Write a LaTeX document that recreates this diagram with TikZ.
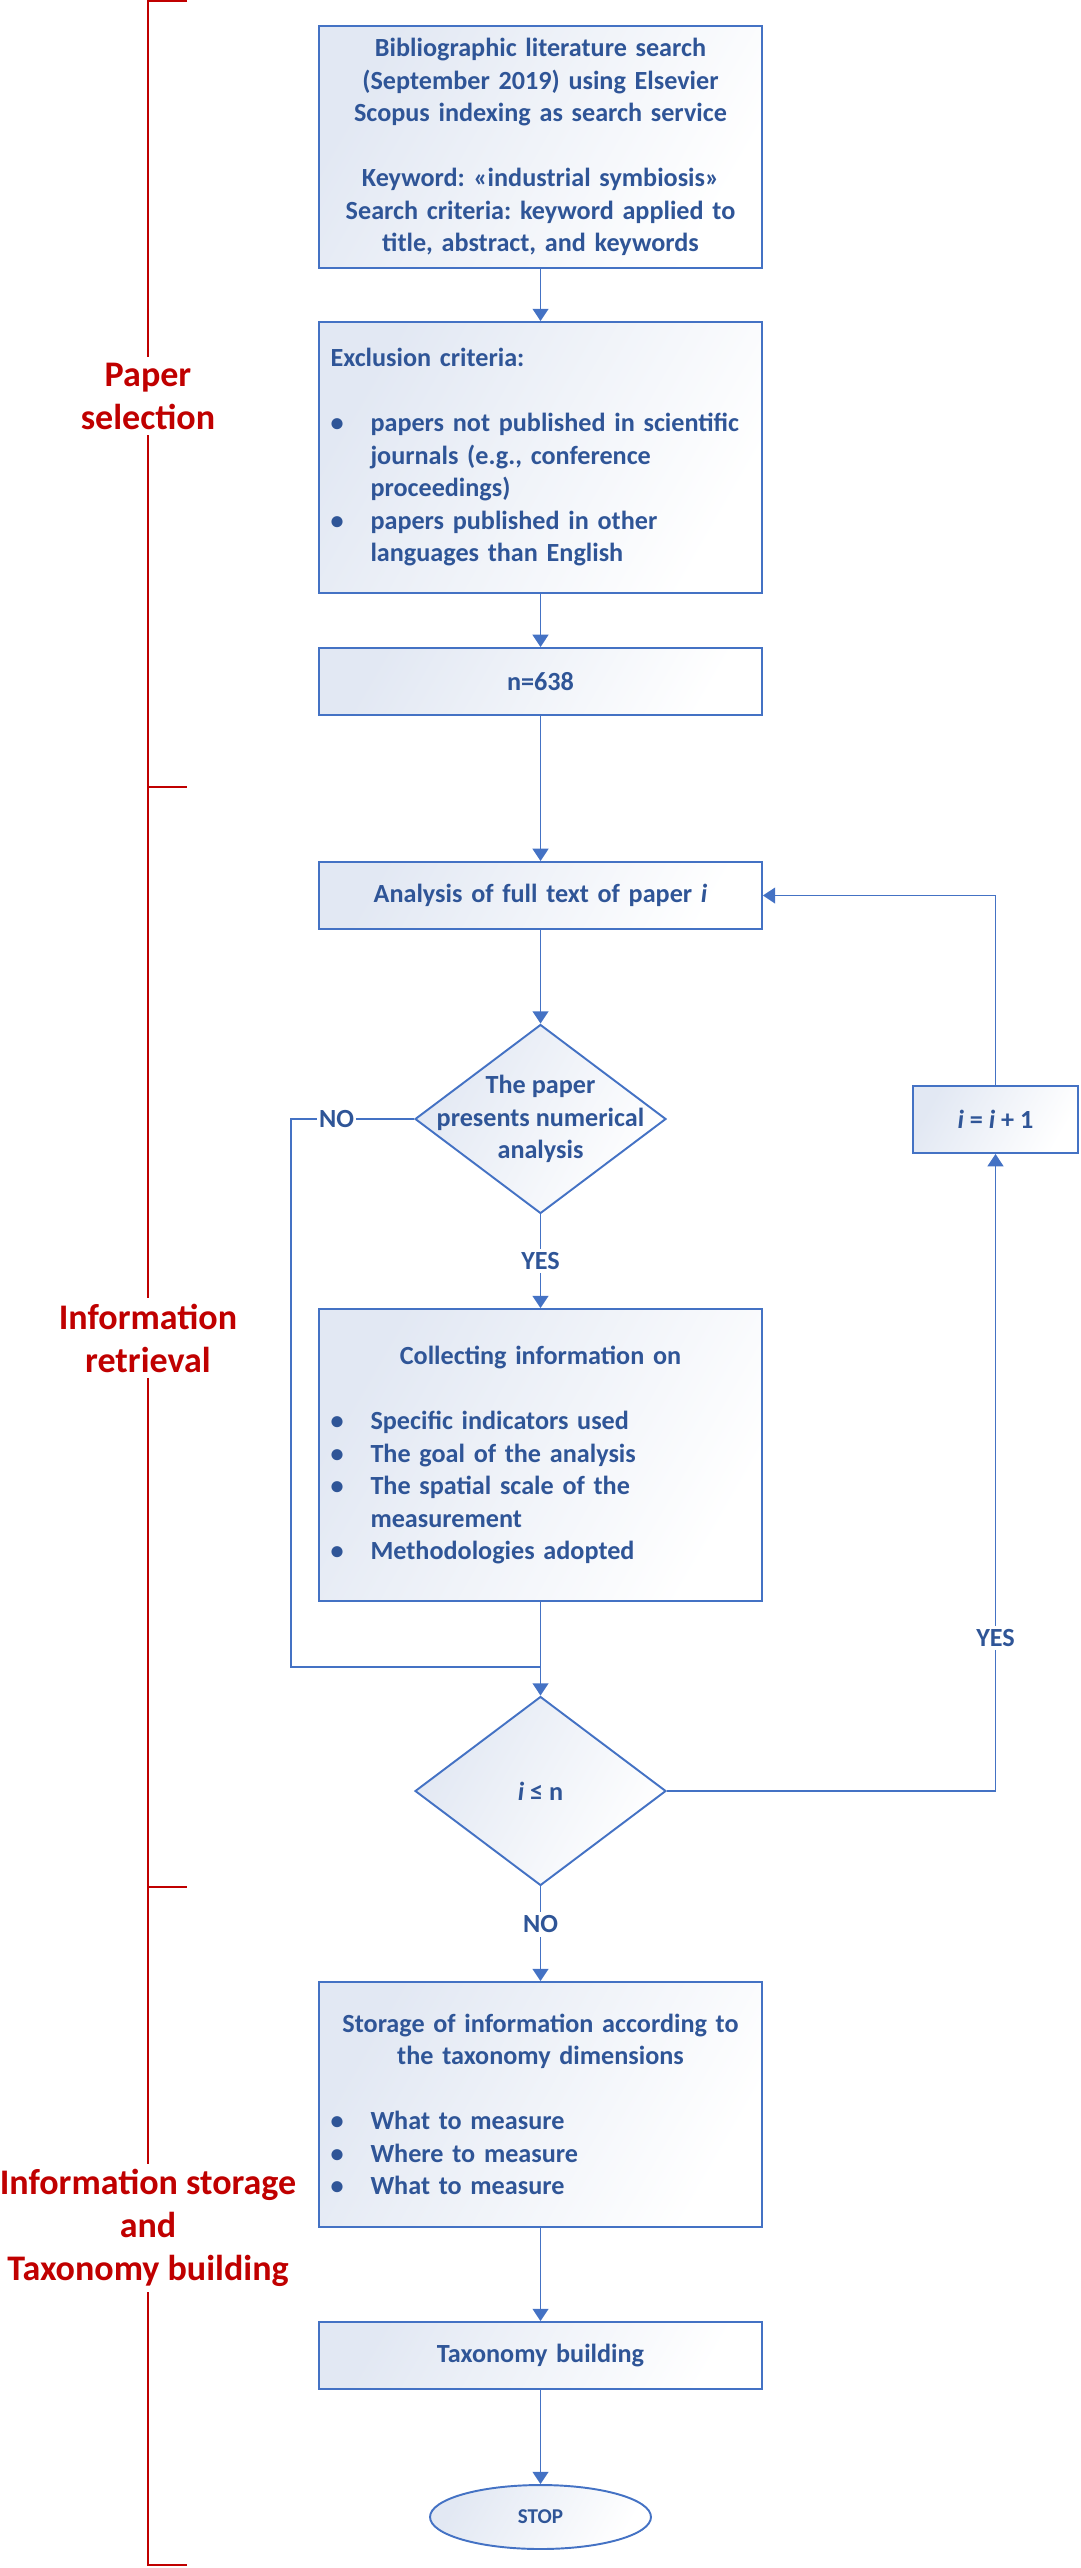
\documentclass[tikz,border=0pt]{standalone}
\usepackage{fontspec}
\setmainfont{Carlito}
\usepackage{tikz}
\usetikzlibrary{arrows.meta,shapes.geometric,positioning}
\usepackage{xcolor}
\definecolor{flowblue}{HTML}{4472C4}
\definecolor{flowtext}{HTML}{2F5597}
\definecolor{flowfill}{HTML}{E2E8F3}
\definecolor{stagered}{HTML}{C00000}
\frenchspacing
\hyphenpenalty=10000
\exhyphenpenalty=10000
\newcommand{\boxfont}{\fontsize{14.9}{18.5}\selectfont\bfseries}
\newcommand{\stagefont}{\fontsize{20.5}{24.5}\selectfont\bfseries}
\newcommand{\blt}{\makebox[0.8cm][l]{\textbullet}}
\newcommand{\ind}{\hspace*{0.8cm}}
\newcommand{\ctr}[1]{\makebox[8.4cm][c]{#1}}
\tikzstyle{box} = [draw=flowblue, line width=1.1pt, left color=flowfill, right color=white, shading angle=60, minimum width=8.86cm, text width=8.4cm, inner xsep=0.23cm, inner ysep=0pt, align=center, text=flowtext, font=\boxfont]
\tikzstyle{smallbox} = [draw=flowblue, line width=1.1pt, left color=flowfill, right color=white, shading angle=60, minimum width=3.3cm, minimum height=1.34cm, text=flowtext, font=\boxfont]
\tikzstyle{decision} = [diamond, draw=flowblue, line width=1.1pt, left color=flowfill, right color=white, shading angle=60, minimum width=5.02cm, minimum height=3.78cm, inner sep=0pt]
\tikzstyle{dtext} = [align=center, text=flowtext, font=\boxfont]
\tikzstyle{terminal} = [ellipse, draw=flowblue, line width=1.1pt, left color=flowfill, right color=white, shading angle=60, minimum width=4.42cm, minimum height=1.28cm, text=flowtext, font=\fontsize{12}{14}\selectfont\bfseries]
\tikzstyle{lbl} = [fill=white, text=flowtext, font=\boxfont, inner sep=2pt]
\tikzstyle{stage} = [fill=white, text=stagered, align=center, font=\stagefont, inner sep=3pt]
\tikzstyle{bracket} = [stagered, line width=1.1pt]
\tikzstyle{flowline} = [flowblue, line width=1.1pt]
\tikzstyle{arrow} = [flowline, -{Triangle[width=9pt,length=7pt]}]

\begin{document}
\begin{tikzpicture}[x=0.02cm,y=0.02cm]
\useasboundingbox (0,0) rectangle (1080,-2568);

% Stage bracket on the left
\draw[bracket] (187,-1) -- (148,-1) -- (148,-2565) -- (187,-2565);
\draw[bracket] (148,-787) -- (187,-787);
\draw[bracket] (148,-1887) -- (187,-1887);
\node[stage] (selection) at (148,-396) {Paper\\selection};
\node[stage] (retrieval) at (148,-1338) {Information\\retrieval};
\node[stage] (storage) at (148,-2228) {Information storage\\and\\Taxonomy building};

% Paper selection
\node[box, minimum height=4.84cm] (search) at (540.5,-147) {Bibliographic literature search\\(September 2019) using Elsevier\\Scopus indexing as search service\\[\baselineskip]Keyword: «industrial symbiosis»\\Search criteria: keyword applied to\\title, abstract, and keywords};
\node[box, minimum height=5.42cm, align=left] (exclude) at (540.5,-457.5) {Exclusion criteria:\\[\baselineskip]\blt papers not published in scientific\\\ind journals (e.g., conference\\\ind proceedings)\\\blt papers published in other\\\ind languages than English};
\node[box, minimum height=1.34cm] (count) at (540.5,-681.5) {n=638};

% Information retrieval
\node[box, minimum height=1.34cm] (analysis) at (540.5,-895.5) {Analysis of full text of paper \textit{i}};
\node[decision] (numcheck) at (540.5,-1119) {};
\node[dtext] (numchecktext) at (numcheck) {The paper\\presents numerical\\analysis};
\node[smallbox] (inc) at (995.5,-1119.5) {\textit{i} = \textit{i} + 1};
\node[box, minimum height=5.84cm, align=left] (collect) at (540.5,-1455) {\ctr{Collecting information on}\\[\baselineskip]\blt Specific indicators used\\\blt The goal of the analysis\\\blt The spatial scale of the\\\ind measurement\\\blt Methodologies adopted};
\node[decision] (lastcheck) at (540.5,-1791) {};
\node[dtext] (lastchecktext) at (lastcheck) {\textit{i} ≤ n};
\coordinate (noturn) at (291,-1119);
\coordinate (join) at (540.5,-1667);

% Information storage and taxonomy building
\node[box, minimum height=4.9cm, align=left] (store) at (540.5,-2104.5) {\ctr{Storage of information according to}\\\ctr{the taxonomy dimensions}\\[\baselineskip]\blt What to measure\\\blt Where to measure\\\blt What to measure};
\node[box, minimum height=1.34cm] (taxo) at (540.5,-2355.5) {Taxonomy building};
\node[terminal] (stop) at (540.5,-2517) {STOP};

% Connectors
\draw[arrow] (search) -- (exclude);
\draw[arrow] (exclude) -- (count);
\draw[arrow] (count) -- (analysis);
\draw[arrow] (analysis) -- (numcheck);
\draw[arrow] (numcheck) -- node[lbl] {YES} (collect);
\draw[flowline] (numcheck.west) -- node[lbl, pos=0.63, inner sep=1pt] {NO} (noturn) |- (join);
\draw[arrow] (collect) -- (lastcheck);
\draw[arrow] (lastcheck.east) -| node[lbl, pos=0.62] {YES} (inc);
\draw[arrow] (inc) |- (analysis);
\draw[arrow] (lastcheck) -- node[lbl, pos=0.4] {NO} (store);
\draw[arrow] (store) -- (taxo);
\draw[arrow] (taxo) -- (stop);
\end{tikzpicture}
\end{document}
